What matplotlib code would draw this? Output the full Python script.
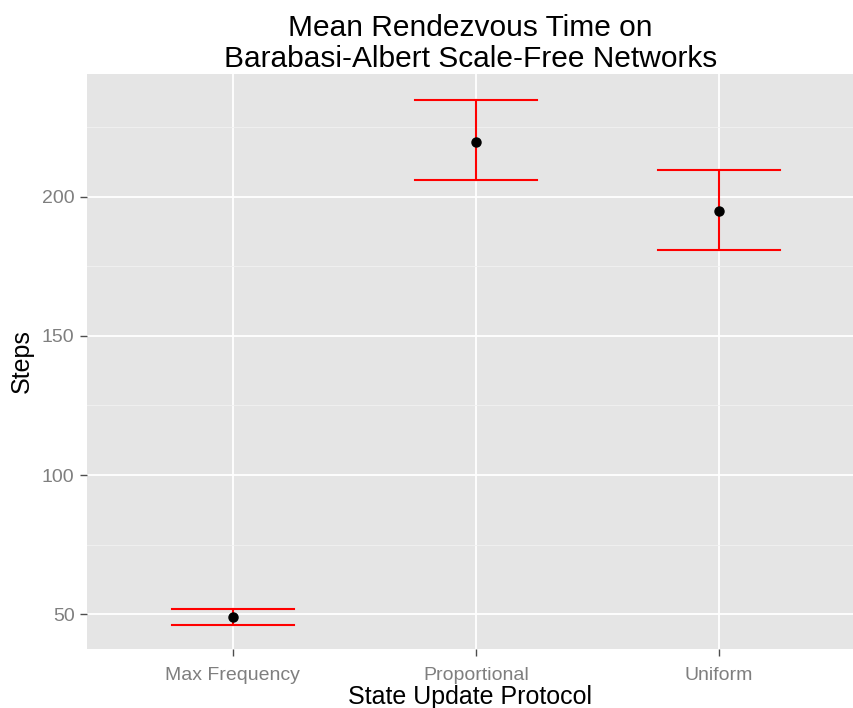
import matplotlib
matplotlib.use("Agg")
import matplotlib.pyplot as plt
from matplotlib.ticker import MultipleLocator

# values
protocols = ["Max Frequency", "Proportional", "Uniform"]
mean_steps = [48.9, 219.6, 194.9]
lower_ci = [46.3, 206.0, 180.9]
upper_ci = [51.7, 234.7, 209.6]
y_ticks = [50, 100, 150, 200]

plt.rcParams["font.family"] = ["Liberation Sans", "DejaVu Sans"]

fig = plt.figure(figsize=(8.54, 7.08), dpi=100)
ax = fig.add_axes([87 / 854, 1 - 649 / 708, 1 - 87 / 854, (649 - 74) / 708])
ax.set_facecolor("#e5e5e5")

x = list(range(1, len(protocols) + 1))
half_w = 0.25

# error bars: vertical stem plus caps
for xi, lo, hi in zip(x, lower_ci, upper_ci):
    ax.plot([xi, xi], [lo, hi], color="#ff0000", lw=1.5, zorder=3)
    ax.plot([xi - half_w, xi + half_w], [lo, lo], color="#ff0000", lw=1.5, zorder=3)
    ax.plot([xi - half_w, xi + half_w], [hi, hi], color="#ff0000", lw=1.5, zorder=3)

ax.plot(x, mean_steps, "o", color="black", ms=6.5, zorder=4)

ax.set_xlim(0.4, 3.556)
ax.set_ylim(37.5, 244.1)
ax.set_xticks(x)
ax.set_xticklabels(protocols)
ax.set_yticks(y_ticks)
ax.yaxis.set_minor_locator(MultipleLocator(25))
ax.xaxis.set_minor_locator(plt.NullLocator())

ax.grid(which="major", color="white", lw=1.3)
ax.grid(which="minor", axis="y", color="#f2f2f2", lw=0.6)
ax.set_axisbelow(True)
for s in ax.spines.values():
    s.set_visible(False)

ax.tick_params(axis="both", which="major", colors="#4d4d4d", length=5, width=1,
               labelsize=14, labelcolor="#7f7f7f", pad=4)
ax.tick_params(axis="x", which="major", pad=8)
ax.tick_params(axis="y", which="minor", length=0)

ax.set_xlabel("State Update Protocol", fontsize=18, labelpad=1)
ax.set_ylabel("Steps", fontsize=18, labelpad=6)
ax.set_title("Mean Rendezvous Time on\nBarabasi-Albert Scale-Free Networks",
             fontsize=21.5, pad=5, linespacing=1.15)

fig.savefig("out.png", dpi=100)
